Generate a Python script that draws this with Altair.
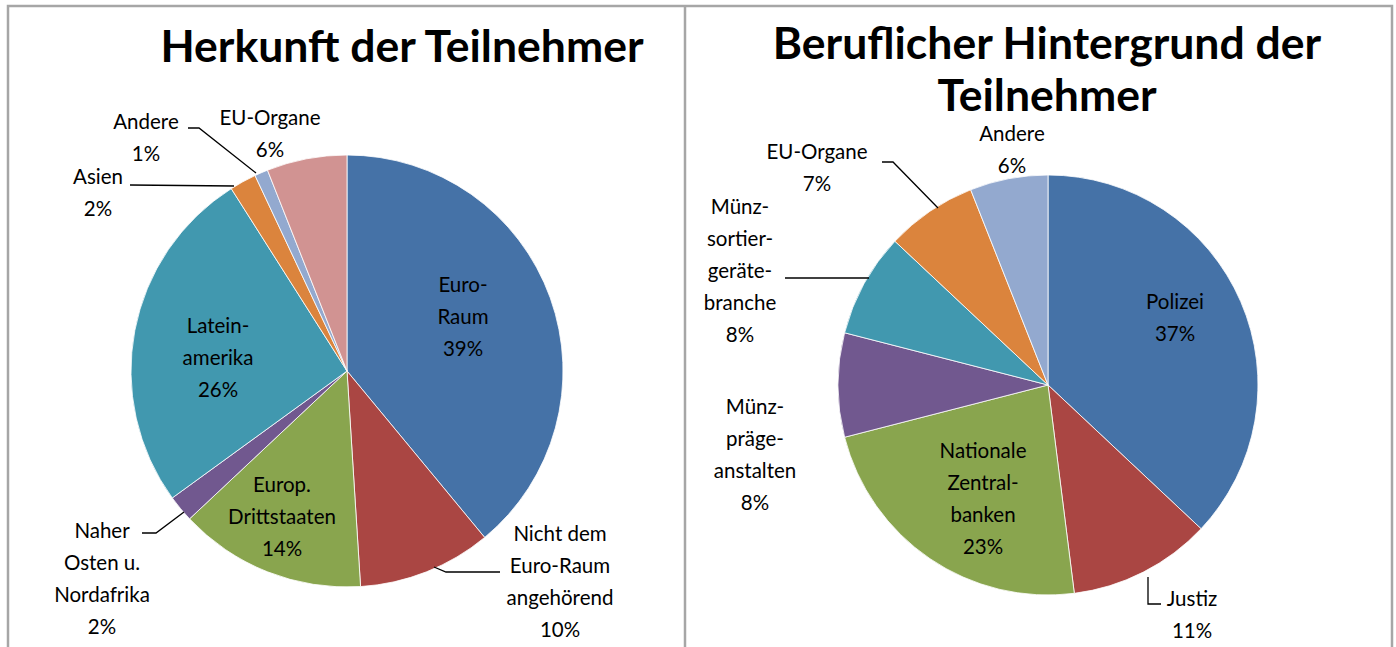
import altair as alt
import pandas as pd

# ---------------- data ----------------
left_categories = ["Euro-Raum", "Nicht dem Euro-Raum angehörend", "Europ. Drittstaaten",
                   "Naher Osten u. Nordafrika", "Lateinamerika", "Asien", "Andere", "EU-Organe"]
left_values = [39, 10, 14, 2, 26, 2, 1, 6]
left_label_text = ["Euro-\nRaum\n39%", "Nicht dem\nEuro-Raum\nangehörend\n10%",
                   "Europ.\nDrittstaaten\n14%", "Naher\nOsten u.\nNordafrika\n2%",
                   "Latein-\namerika\n26%", "Asien\n2%", "Andere\n1%", "EU-Organe\n6%"]

right_categories = ["Polizei", "Justiz", "Nationale Zentralbanken", "Münzprägeanstalten",
                    "Münzsortiergerätebranche", "EU-Organe", "Andere"]
right_values = [37, 11, 23, 8, 8, 7, 6]
right_label_text = ["Polizei\n37%", "Justiz\n11%", "Nationale\nZentral-\nbanken\n23%",
                    "Münz-\npräge-\nanstalten\n8%", "Münz-\nsortier-\ngeräte-\nbranche\n8%",
                    "EU-Organe\n7%", "Andere\n6%"]

left_title = "Herkunft der Teilnehmer"
right_title = "Beruflicher Hintergrund der\nTeilnehmer"

# ---------------- styles / layout ----------------
palette = ["#4572A7", "#AA4643", "#89A54E", "#71588F", "#4198AF", "#DB843D", "#93A9CF", "#D19392"]
W, H = 1396, 647
FONT = "Lato"

left_center = (347, 371)
left_radius = 216
right_center = (1048, 385)
right_radius = 210

# position of the first line of each label block
left_label_xy = [(463, 286), (560, 535), (282, 486), (102, 532), (218, 327),
                 (98, 178), (146, 123), (270, 119)]
right_label_xy = [(1175, 303), (1192, 600), (983, 452), (755, 408), (740, 208),
                  (817, 153), (1012, 135)]

# leader lines
leaders = [
    ("l_nicht", [(434, 567), (446, 572), (500, 572)]),
    ("l_naher", [(142, 533), (156, 533), (184, 512)]),
    ("l_asien", [(130, 185), (234, 186)]),
    ("l_andere", [(188, 128), (199, 128), (256, 173)]),
    ("r_justiz", [(1148, 577), (1148, 604), (1161, 604)]),
    ("r_sortier", [(785, 278), (869, 278)]),
    ("r_eu", [(882, 162), (893, 162), (938, 208)]),
]


def pie_df(cats, vals):
    return pd.DataFrame({
        "cat": cats,
        "value": vals,
        "idx": list(range(len(cats))),
        "color": palette[:len(cats)],
    })


def label_df(texts, xy):
    return pd.DataFrame({"text": texts, "x": [p[0] for p in xy], "y": [p[1] for p in xy]})


def pie(df, center, radius):
    return alt.Chart(df).mark_arc(radius=radius, stroke="#FFFFFF", strokeWidth=0.8).encode(
        theta=alt.Theta("value:Q", stack=True, scale=alt.Scale(domain=[0, 100])),
        color=alt.Color("color:N", scale=None),
        order=alt.Order("idx:Q"),
        x=alt.value(center[0]),
        y=alt.value(center[1]),
    )


xs = alt.Scale(domain=[0, W], range=[0, W])
ys = alt.Scale(domain=[0, H], range=[0, H])


def labels(df):
    return alt.Chart(df).mark_text(
        font=FONT, fontSize=20.5, lineBreak="\n", lineHeight=32, align="center",
        baseline="middle", color="#000000"
    ).encode(
        x=alt.X("x:Q", scale=xs, axis=None),
        y=alt.Y("y:Q", scale=ys, axis=None),
        text="text:N",
    )


rows = []
for g, pts in leaders:
    for i, (px, py) in enumerate(pts):
        rows.append({"g": g, "o": i, "x": px, "y": py})
leader_df = pd.DataFrame(rows)

leader_layer = alt.Chart(leader_df).mark_line(color="#000000", strokeWidth=1.3).encode(
    x=alt.X("x:Q", scale=xs, axis=None),
    y=alt.Y("y:Q", scale=ys, axis=None),
    detail="g:N",
    order="o:Q",
)

title_df = pd.DataFrame({"text": [left_title, right_title], "x": [402, 1047], "y": [62, 59]})
title_layer = alt.Chart(title_df).mark_text(
    font=FONT, fontSize=44.5, fontWeight="bold", lineBreak="\n", lineHeight=52,
    align="center", baseline="alphabetic", color="#000000"
).encode(
    x=alt.X("x:Q", scale=xs, axis=None),
    y=alt.Y("y:Q", scale=ys, axis=None),
    text="text:N",
)

frame = alt.Chart(pd.DataFrame({"a": [0]})).mark_rect(
    fill=None, stroke="#A6A6A6", strokeWidth=2.5
).encode(x=alt.value(8), x2=alt.value(1392), y=alt.value(6), y2=alt.value(700))

divider = alt.Chart(pd.DataFrame({"a": [0]})).mark_rule(
    color="#A6A6A6", strokeWidth=2.5
).encode(x=alt.value(685), y=alt.value(6), y2=alt.value(647))

chart = alt.layer(
    frame,
    divider,
    pie(pie_df(left_categories, left_values), left_center, left_radius),
    pie(pie_df(right_categories, right_values), right_center, right_radius),
    leader_layer,
    labels(label_df(left_label_text, left_label_xy)),
    labels(label_df(right_label_text, right_label_xy)),
    title_layer,
).resolve_scale(theta="independent").properties(
    width=W, height=H, padding=0, autosize=alt.AutoSizeParams(type="none"),
    background="#FFFFFF",
).configure_view(stroke=None)

chart.save("out.html", embed_options={"renderer": "svg", "actions": False})
